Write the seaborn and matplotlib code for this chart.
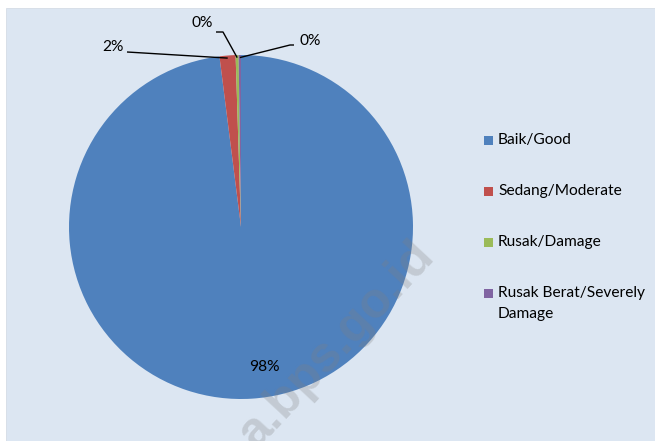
import matplotlib
matplotlib.use("Agg")
import matplotlib.pyplot as plt
from matplotlib.patches import Rectangle
import numpy as np
import seaborn as sns

sns.set_theme(style="white")
plt.rcParams["font.family"] = ["Lato", "DejaVu Sans"]

# Condition of roads (share of total length, %)
categories = ["Baik/Good", "Sedang/Moderate", "Rusak/Damage", "Rusak Berat/Severely\nDamage"]
shares = [98.0, 1.5, 0.28, 0.22]
colors = ["#4f81bd", "#c0504d", "#9bbb59", "#8064a2"]

W, H = 655, 441
BG = "#dce6f2"

fig = plt.figure(figsize=(W / 100, H / 100), dpi=100)
fig.patch.set_facecolor("white")
fig.add_artist(Rectangle((6 / W, 0), 1 - 6 / W, (H - 8) / H,
                         transform=fig.transFigure, facecolor=BG,
                         edgecolor="#d0d8e2", lw=0.5, zorder=0))

# pie area: centre (241, 227) px, radius 172 px
cx, cy, r = 241, 227, 172
ax = fig.add_axes([(cx - r) / W, (H - cy - r) / H, 2 * r / W, 2 * r / H])
ax.set_facecolor("none")
wedges, _ = ax.pie(shares, colors=colors, startangle=90, counterclock=False,
                   radius=1.0, wedgeprops=dict(linewidth=0))
ax.set_xlim(-1, 1)
ax.set_ylim(-1, 1)
ax.set_aspect("equal")
ax.axis("off")


def px(x, y):
    """pixel position -> data coordinates of the pie axes"""
    return (x - cx) / r, (cy - y) / r


def mid_point(w, rad=1.0):
    a = np.deg2rad((w.theta1 + w.theta2) / 2)
    return rad * np.cos(a), rad * np.sin(a)


pct = [f"{round(s):.0f}%" for s in shares]
fs = 11.2

# label inside the large slice
ax.text(*px(264, 367), pct[0], ha="center", va="center", fontsize=fs, color="black")

# labels with leader lines for the thin slices
label_pos = [None, px(113, 47), px(202, 23), px(310, 41)]
leader_path = [None,
               [px(127, 52)],
               [px(216, 32), px(223, 32)],
               [px(294, 45), px(290, 45)]]
for i in (1, 2, 3):
    ax.text(*label_pos[i], pct[i], ha="center", va="center", fontsize=fs,
            color="black", clip_on=False)
    pts = leader_path[i] + [mid_point(wedges[i], 0.985)]
    xs, ys = zip(*pts)
    ax.plot(xs, ys, color="black", lw=1.0, clip_on=False, solid_capstyle="butt")

# legend
rows = [140, 191, 242, 293]
for lab, col, yc in zip(categories, colors, rows):
    fig.add_artist(Rectangle((484 / W, (H - yc - 4.5) / H), 9 / W, 9 / H,
                             transform=fig.transFigure, facecolor=col, edgecolor="none"))
    fig.text(498 / W, (H - yc) / H, lab.split("\n")[0], ha="left", va="center",
             fontsize=fs, color="black")
    if "\n" in lab:
        fig.text(498 / W, (H - yc - 21) / H, lab.split("\n")[1], ha="left",
                 va="center", fontsize=fs, color="black")

# faint site watermark
fig.text(436 / W, (H - 257) / H, "a.bps.go.id", ha="right", va="baseline",
         rotation=47, rotation_mode="anchor", fontsize=36, fontweight="bold",
         family="Liberation Sans", color="#808080", alpha=0.27, zorder=10)

fig.savefig("out.png", dpi=100)
